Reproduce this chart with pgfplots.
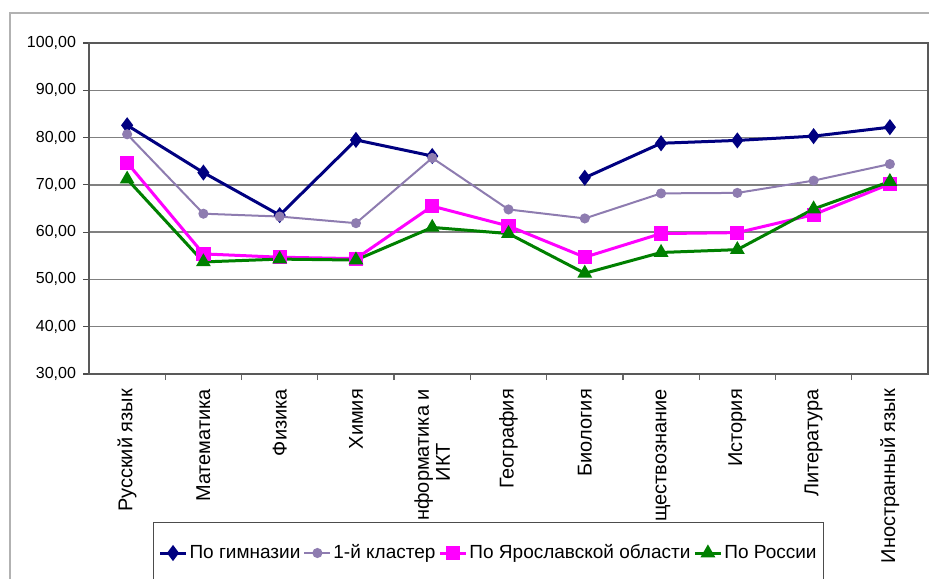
\documentclass[border=0pt]{standalone}
\usepackage{fontspec}
\setmainfont{Liberation Sans}
\usepackage{pgfplots}
\pgfplotsset{compat=1.18}
\definecolor{cblue}{HTML}{000080}
\definecolor{cpurple}{HTML}{8E7CB0}
\definecolor{cmag}{HTML}{FF00FF}
\definecolor{cgreen}{HTML}{008000}
\definecolor{cgrid}{HTML}{808080}
\begin{document}
\begin{tikzpicture}
\useasboundingbox (0,0) rectangle (464.5pt,289pt);
\clip (0,0) rectangle (464.5pt,289pt);
\draw[gray!60, line width=1pt] (5pt,-5pt) -- (5pt,282.5pt) -- (470pt,282.5pt);
\begin{axis}[
  at={(44.5pt,102pt)}, anchor=south west,
  scale only axis, width=419.5pt, height=165.5pt,
  xmin=-0.5, xmax=10.5, ymin=30, ymax=100,
  xtick={0,...,10},
  xticklabels={Русский язык, Математика, Физика, Химия, {Информатика и\\ИКТ}, География, Биология, Обществознание, История, Литература, Иностранный язык},
  major x tick style={draw=none},
  minor xtick={0.5,1.5,...,9.5},
  minor x tick style={draw=gray!80!black, line width=0.6pt},
  minor tick length=3pt,
  ytick={30,40,...,100},
  major tick length=3pt,
  tick align=outside, tick pos=left,
  ymajorgrids, grid style={cgrid, line width=0.7pt},
  axis line style={draw=gray!70!black, line width=0.6pt},
  y tick style={draw=gray!60!black, line width=0.6pt},
  /pgf/number format/assume math mode=true,
  yticklabel style={font=\fontsize{8}{9.6}\selectfont, /pgf/number format/.cd, fixed, fixed zerofill, precision=2, use comma},
  xticklabel style={font=\fontsize{10}{10.5}\selectfont, rotate=90, anchor=east, align=center, xshift=-1pt},
  unbounded coords=jump,
  legend columns=-1,
  legend style={at={(rel axis cs:0.0763,-0.447)}, anchor=north west, draw=gray!60!black, line width=0.5pt, fill=white,
    font=\fontsize{9.5}{11}\selectfont, inner ysep=10pt, inner xsep=2.5pt,
    /tikz/every even column/.append style={column sep=0.5pt},
    nodes={inner sep=1pt}},
  legend image code/.code={\draw[mark repeat=2,mark phase=2,#1] plot coordinates {(0pt,0pt) (6.5pt,0pt) (13pt,0pt)};},
]
\addplot[cblue, line width=1.5pt, mark=diamond*, mark size=2.8pt, mark options={solid}] coordinates {
(0,82.6) (1,72.6) (2,63.6) (3,79.5) (4,76.1) (5,nan) (6,71.5) (7,78.8) (8,79.4) (9,80.3) (10,82.2)};
\addlegendentry{По гимназии}
\addplot[cpurple, line width=1pt, mark=*, mark size=2pt] coordinates {
(0,80.7) (1,63.9) (2,63.3) (3,61.9) (4,75.7) (5,64.8) (6,62.9) (7,68.2) (8,68.3) (9,70.9) (10,74.4)};
\addlegendentry{1-й кластер}
\addplot[cmag, line width=1.5pt, mark=square*, mark size=2.8pt] coordinates {
(0,74.7) (1,55.4) (2,54.7) (3,54.4) (4,65.5) (5,61.3) (6,54.7) (7,59.7) (8,59.9) (9,63.7) (10,70.2)};
\addlegendentry{По Ярославской области}
\addplot[cgreen, line width=1.5pt, mark=triangle*, mark size=2.8pt] coordinates {
(0,71.2) (1,53.7) (2,54.3) (3,54.1) (4,61.0) (5,59.7) (6,51.3) (7,55.7) (8,56.3) (9,64.9) (10,70.7)};
\addlegendentry{По России}
\end{axis}
\end{tikzpicture}
\end{document}
